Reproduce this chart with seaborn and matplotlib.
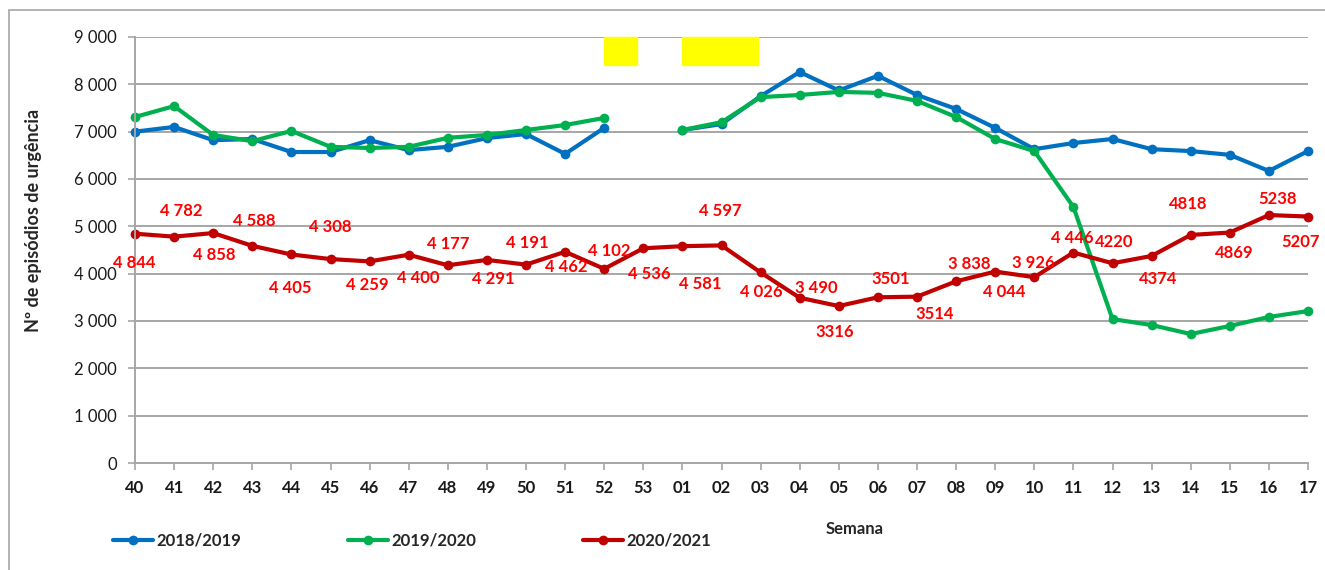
import matplotlib
matplotlib.use('Agg')
import matplotlib.pyplot as plt
from matplotlib.patches import Rectangle
from matplotlib.ticker import FuncFormatter, MultipleLocator
import numpy as np
import pandas as pd
import seaborn as sns

# Week labels (season runs from week 40 to week 17)
weeks = ['40', '41', '42', '43', '44', '45', '46', '47', '48', '49', '50', '51', '52', '53',
         '01', '02', '03', '04', '05', '06', '07', '08', '09', '10', '11', '12', '13', '14',
         '15', '16', '17']

# Values (no week 53 for the older seasons)
s2018 = [7000, 7100, 6820, 6845, 6570, 6570, 6820, 6610, 6680, 6865, 6950, 6530, 7080, np.nan,
         7035, 7160, 7750, 8260, 7870, 8180, 7775, 7480, 7080, 6630, 6760, 6845, 6630, 6590,
         6510, 6170, 6590]
s2019 = [7310, 7540, 6930, 6800, 7015, 6680, 6655, 6680, 6870, 6930, 7035, 7140, 7290, np.nan,
         7035, 7200, 7730, 7775, 7840, 7820, 7650, 7310, 6845, 6590, 5410, 3040, 2915, 2725,
         2895, 3085, 3210]
s2020 = [4844, 4782, 4858, 4588, 4405, 4308, 4259, 4400, 4177, 4291, 4191, 4462, 4102, 4536,
         4581, 4597, 4026, 3490, 3316, 3501, 3514, 3838, 4044, 3926, 4446, 4220, 4374, 4818,
         4869, 5238, 5207]

# data label texts, as printed on the chart
s2020_labels = ['4 844', '4 782', '4 858', '4 588', '4 405', '4 308', '4 259', '4 400', '4 177',
                '4 291', '4 191', '4 462', '4 102', '4 536', '4 581', '4 597', '4 026', '3 490',
                '3316', '3501', '3514', '3 838', '4 044', '3 926', '4 446', '4220', '4374',
                '4818', '4869', '5238', '5207']

seasons = ['2018/2019', '2019/2020', '2020/2021']
colors = ['#0070C0', '#00B050', '#C00000']

# label offsets in pixels (dx, dy downward) from each red point
label_offsets = [(-1, 29), (7, -26), (1, 22), (2, -25), (-1, 34), (0, -32), (-2, 24), (10, 23),
                 (0, -21), (6, 19), (1, -22), (1, 15), (5, -18), (6, 26), (18, 38), (-1, -34),
                 (1, 20), (17, -10), (-4, 26), (13, -18), (18, 17), (13, -17), (9, 20), (-1, -14),
                 (-1, -15), (2, -21), (7, 23), (-2, -31), (4, 20), (9, -16), (-7, 25)]

# long-form table, split into segments where a series has no value
rows = []
for season, vals in zip(seasons, [s2018, s2019, s2020]):
    seg = 0
    for i, v in enumerate(vals):
        if np.isnan(v):
            seg += 1
            continue
        rows.append({'pos': i, 'value': v, 'season': season, 'seg': f'{season}-{seg}'})
df = pd.DataFrame(rows)

sns.set_theme(style='white')
plt.rcParams['font.family'] = ['Lato', 'DejaVu Sans']

fig = plt.figure(figsize=(13.25, 5.7), dpi=100)
ax = fig.add_axes([135 / 1325, 1 - 463 / 570, 1173 / 1325, 426 / 570])

sns.lineplot(data=df, x='pos', y='value', hue='season', units='seg', estimator=None,
             palette=dict(zip(seasons, colors)), hue_order=seasons, marker='o',
             markersize=7, markeredgewidth=0, linewidth=3, ax=ax, legend=True, sort=False)
for line in ax.get_lines():
    line.set_clip_on(False)

ax.set_xlim(0, len(weeks) - 1)
ax.set_ylim(0, 9000)
ax.set_xticks(range(len(weeks)))
ax.set_xticklabels(weeks, fontweight='bold', fontsize=12)
ax.yaxis.set_major_locator(MultipleLocator(1000))
ax.yaxis.set_major_formatter(FuncFormatter(lambda v, p: f'{int(v):,}'.replace(',', ' ')))
for lab in ax.get_yticklabels():
    lab.set_fontsize(12)

grey = '#a6a6a6'
ax.grid(axis='y', color=grey, linewidth=1.4)
ax.grid(axis='x', visible=False)
for side in ['top', 'right']:
    ax.spines[side].set_visible(False)
for side in ['left', 'bottom']:
    ax.spines[side].set_color(grey)
    ax.spines[side].set_linewidth(1.4)
ax.tick_params(axis='both', which='major', direction='out', length=5, width=1.2,
               color=grey, labelcolor='#1a1a1a')
ax.tick_params(axis='x', pad=7, bottom=True)
ax.tick_params(axis='y', pad=8, left=True)

ax.set_xlabel('Semana', fontsize=12, fontweight='bold')
ax.xaxis.set_label_coords((855 - 135) / 1173, (463 - 521) / 426)
ax.set_ylabel('Nº de episódios de urgência', fontsize=13, fontweight='bold')
ax.yaxis.set_label_coords((42 - 135) / 1173, (463 - 220) / 426)

# data labels for 2020/2021
for i, (v, txt) in enumerate(zip(s2020, s2020_labels)):
    dx, dy = label_offsets[i]
    ax.annotate(txt, (i, v), xytext=(dx, -dy), textcoords='offset pixels',
                ha='center', va='center', color='#FF0000', fontsize=12,
                fontweight='bold', annotation_clip=False)

# yellow boxes over the top of the plot area
ax.add_patch(Rectangle((12, 8400), 0.85, 600, color='#FFFF00', zorder=5, clip_on=False))
ax.add_patch(Rectangle((14, 8400), 1.93, 600, color='#FFFF00', zorder=5, clip_on=False))

handles, labels = ax.get_legend_handles_labels()
ax.legend(handles, labels, loc='center left', ncol=3, frameon=False,
          bbox_to_anchor=(113 / 1325, 1 - 541 / 570), bbox_transform=fig.transFigure,
          prop={'weight': 'bold', 'size': 12}, handlelength=2.4, handletextpad=0.2,
          columnspacing=6.4, borderpad=0, borderaxespad=0)

# outer chart border
fig.patches.append(Rectangle((9 / 1325, -0.05), 1.1, 1 - 10 / 570 + 0.05,
                             transform=fig.transFigure, fill=False, edgecolor=grey,
                             linewidth=1.2))

fig.savefig('out.png', dpi=100)
